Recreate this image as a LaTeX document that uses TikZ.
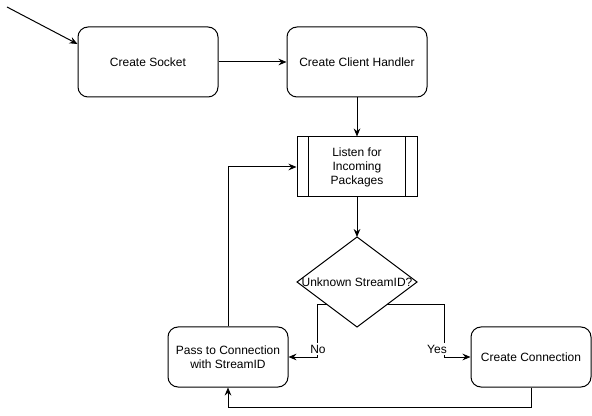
\documentclass[tikz,border=0pt]{standalone}
\usepackage{fontspec}
\setmainfont{Liberation Sans}
\usetikzlibrary{arrows.meta}
\begin{document}
\begin{tikzpicture}[x=0.75pt,y=-0.75pt,line width=0.75pt,
  txt/.style={font=\fontsize{9}{10.5}\selectfont, align=center},
  box/.style={txt, draw, rounded corners=7.5pt, inner sep=0pt},
  bigbox/.style={box, minimum width=105pt, minimum height=52.5pt},
  smallbox/.style={box, minimum width=90pt, minimum height=45pt},
  procbox/.style={txt, draw, inner sep=0pt, minimum width=90pt, minimum height=45pt},
  lbl/.style={txt, fill=white, inner sep=1pt},
  arr/.style={-{Stealth[length=6pt,width=5pt,inset=2pt]}}]
\fill[white] (0,0) rectangle (592,416);
\useasboundingbox (0,0) rectangle (592,416);

\node[bigbox] (sock) at (148,62) {Create Socket};
\node[bigbox] (hand) at (357,62) {Create Client Handler};
\node[procbox] (listen) at (357,167) {Listen for\\Incoming\\Packages};
\draw ([xshift=9pt]listen.north west) -- ([xshift=9pt]listen.south west);
\draw ([xshift=-9pt]listen.north east) -- ([xshift=-9pt]listen.south east);

\coordinate (dt) at (357,237);
\coordinate (dR) at (417,282);
\coordinate (db) at (357,327);
\coordinate (dL) at (297,282);
\draw (dt) -- (dR) -- (db) -- (dL) -- cycle;
\node[txt] (dtext) at (357,282) {Unknown StreamID?};
\coordinate (dl) at (327,304.5);
\coordinate (dr) at (387,304.5);

\node[smallbox] (pass) at (228,357) {Pass to Connection\\with StreamID};
\node[smallbox] (conn) at (531,357) {Create Connection};

\coordinate (start) at (7,7);
\draw[arr] (start) -- ([yshift=13.5pt]sock.west);
\draw[arr] (sock) -- (hand);
\draw[arr] (hand) -- (listen);
\draw[arr] (listen) -- (dt);
\draw[arr] (dl) -- (317,304.5) -- (317,357) -- (pass.east);
\draw[arr] (dr) -- (444,304.5) -- (444,357) -- (conn.west);
\draw[arr] (conn.south) -- (531,407) -- (228,407) -- (pass.south);
\draw[arr] (pass.north) -- (228,167) -- (listen.west);

\node[lbl] (no) at (318,349) {No};
\node[lbl] (yes) at (437,349) {Yes};
\end{tikzpicture}
\end{document}
